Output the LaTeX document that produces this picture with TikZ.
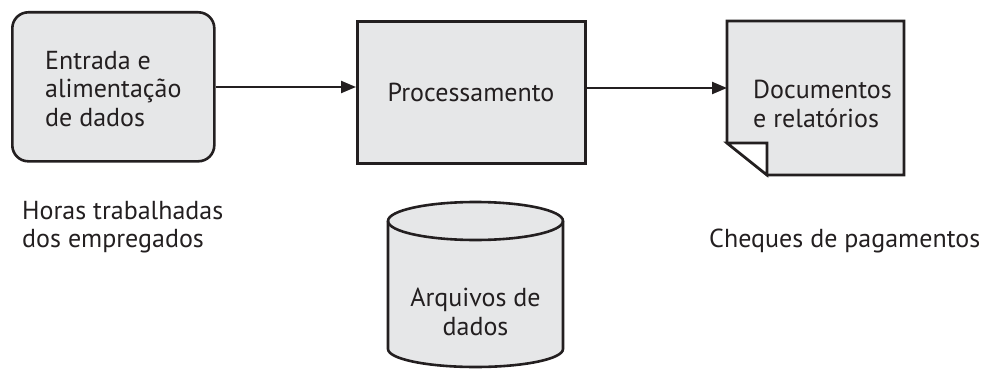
\documentclass[tikz,border=0pt]{standalone}
\usepackage{fontspec}
\setmainfont{PT Sans}
\usetikzlibrary{arrows.meta}
\definecolor{boxfill}{RGB}{230,231,232}
\definecolor{ink}{RGB}{35,31,32}
\begin{document}
\begin{tikzpicture}[x=1pt,y=-1pt,
  shapeline/.style={draw=ink,line width=2.6pt,fill=boxfill},
  txt/.style={text=ink,font=\fontsize{26}{28.5}\selectfont,inner sep=0pt},
  flow/.style={draw=ink,line width=2.2pt,-{Triangle[length=15pt,width=12pt]}}]
\useasboundingbox (0,0) rectangle (990,369);
% input
\node[shapeline,rounded corners=16pt,minimum width=202pt,minimum height=149pt,anchor=north west] (inp) at (11,11) {};
\node[txt,align=left,anchor=west] (inpt) at (45,89) {Entrada e\\alimentação\\de dados};
% process
\node[shapeline,minimum width=228pt,minimum height=142pt,anchor=north west] (proc) at (356,20) {};
\node[txt] (proct) at (471,92) {Processamento};
% document
\coordinate (d1) at (727,21);
\coordinate (d2) at (904,21);
\coordinate (d3) at (904,175);
\coordinate (d4) at (767,175);
\coordinate (d5) at (727,143);
\coordinate (d6) at (767,143);
\path[shapeline] (d1) -- (d2) -- (d3) -- (d4) -- (d5) -- cycle;
\path[draw=ink,line width=2.6pt,fill=white,line join=miter] (d5) -- (d6) -- (d4) -- cycle;
\node[txt,align=left,anchor=west] (doct) at (753,104) {Documentos\\e relatórios};
\node[inner sep=0pt,minimum width=177pt,minimum height=154pt,anchor=north west] (doc) at (727,21) {};
% cylinder
\path[shapeline] (388,221) -- (388,349) arc[start angle=180,end angle=0,x radius=87.5,y radius=18] -- (563,221) arc[start angle=0,end angle=-180,x radius=87.5,y radius=19] -- cycle;
\draw[draw=ink,line width=2.6pt] (388,221) arc[start angle=180,end angle=0,x radius=87.5,y radius=19];
\node[txt,align=center] (cylt) at (475.5,312) {Arquivos de\\dados};
% labels
\node[txt,align=left,anchor=west] (hours) at (22,227) {Horas trabalhadas\\dos empregados};
\node[txt,anchor=west] (checks) at (709,241) {Cheques de pagamentos};
% arrows
\draw[flow] (inp.east |- 0,87) -- (proc.west |- 0,87);
\draw[flow] (proc.east |- 0,88) -- (doc.west |- 0,88);
\end{tikzpicture}
\end{document}
